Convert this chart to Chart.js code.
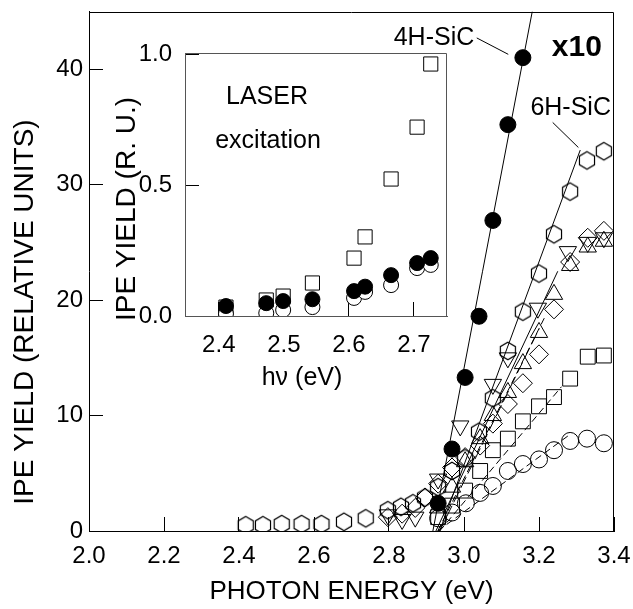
<!DOCTYPE html>
<html><head><meta charset="utf-8">
<script src="https://cdn.jsdelivr.net/npm/chart.js@4.4.1/dist/chart.umd.min.js"></script>
<style>
html,body{margin:0;padding:0;background:#fff;}
#wrap{position:relative;width:633px;height:609px;overflow:hidden;}
#main{position:absolute;left:0;top:0;}
#inset{position:absolute;left:95px;top:40px;}
</style></head><body>
<div id="wrap">
<canvas id="main" width="633" height="609"></canvas>
<canvas id="inset" width="370" height="360"></canvas>
</div>
<script>
const FONT = '"Liberation Sans", Arial, Helvetica, sans-serif';

// ---------- MAIN PLOT DATA (photon energy eV, IPE yield rel. units) ----------
// 4H-SiC (filled circles) and its straight fit
const e4H = [2.931, 2.968, 3.003, 3.040, 3.077, 3.117, 3.157];
const y4H = [2.4, 7.1, 13.3, 18.6, 26.9, 35.2, 41.0];
const fit4H_E = [2.917, 3.182];
const fit4H_Y = [0, 45];

// 6H-SiC (open hexagons) and its straight fit
const eHex = [2.418, 2.464, 2.514, 2.567, 2.620, 2.680, 2.738, 2.797, 2.832, 2.864, 2.896, 2.931, 2.968, 3.003, 3.040, 3.077, 3.117, 3.157, 3.200, 3.240, 3.283, 3.328, 3.373];
const yHex = [0.5, 0.5, 0.6, 0.6, 0.6, 0.8, 1.1, 1.8, 2.1, 2.4, 2.9, 3.8, 5.2, 6.3, 8.6, 11.5, 15.6, 19.0, 22.3, 25.7, 29.4, 32.1, 32.9];
const fitHex_E = [2.935, 3.310];
const fitHex_Y = [0, 33.0];

// open down-triangles
const eDown = [2.797, 2.835, 2.870, 2.931, 2.990, 3.077, 3.117, 3.197, 3.277, 3.330, 3.373];
const yDown = [1.4, 1.0, 1.2, 4.5, 9.1, 12.7, 15.0, 19.3, 24.2, 25.0, 25.4];
const fitDown_E = [2.925, 3.250];
const fitDown_Y = [0, 22.5];

// open diamonds
const eDia = [2.797, 2.835, 2.870, 2.896, 2.931, 2.968, 3.003, 3.043, 3.077, 3.117, 3.157, 3.200, 3.240, 3.283, 3.330, 3.373];
const yDia = [1.2, 1.5, 2.0, 2.9, 4.1, 5.5, 6.4, 7.4, 9.3, 11.0, 12.8, 15.3, 19.2, 23.3, 25.4, 26.0];
const fitDia_E = [2.930, 3.215];
const fitDia_Y = [0, 18.5];

// open up-triangles
const eUp = [2.931, 2.968, 3.003, 3.043, 3.077, 3.117, 3.157, 3.200, 3.240, 3.283, 3.330, 3.373];
const yUp = [2.0, 3.8, 6.0, 8.0, 10.0, 12.0, 14.5, 17.2, 20.5, 23.0, 24.6, 25.1];
const fitUp_E = [2.935, 3.200];
const fitUp_Y = [0, 17.5];

// open squares
const eSq = [2.931, 2.968, 3.003, 3.043, 3.077, 3.117, 3.157, 3.200, 3.240, 3.283, 3.330, 3.373];
const ySq = [1.2, 2.2, 3.5, 5.2, 7.0, 8.0, 9.5, 10.8, 11.6, 13.2, 15.1, 15.2];
const fitSq_E = [2.935, 3.260];
const fitSq_Y = [0, 12.5];

// open circles
const eCirc = [2.931, 2.968, 3.005, 3.043, 3.077, 3.117, 3.157, 3.200, 3.240, 3.283, 3.328, 3.373];
const yCirc = [1.1, 1.6, 2.4, 3.3, 3.9, 5.2, 5.8, 6.2, 7.0, 7.8, 8.0, 7.6];
const fitCirc_E = [2.930, 3.280];
const fitCirc_Y = [0, 8.3];

// ---------- INSET DATA (laser excitation) ----------
const insetE = [2.411, 2.473, 2.499, 2.544, 2.608, 2.625, 2.665, 2.705, 2.726];
const insetSquares = [0.034, 0.061, 0.076, 0.126, 0.221, 0.302, 0.523, 0.721, 0.962];
const insetFilled = [0.038, 0.049, 0.057, 0.064, 0.095, 0.112, 0.156, 0.202, 0.221];
const insetOpen = [0.008, 0.011, 0.023, 0.034, 0.069, 0.092, 0.118, 0.183, 0.195];

// ---------- AXES / TEXT ----------
const mainX = {min: 2.0, max: 3.4, step: 0.2, title: 'PHOTON ENERGY (eV)'};
const mainY = {min: 0, max: 45, step: 10, title: 'IPE YIELD (RELATIVE UNITS)'};
const insetX = {min: 2.348, max: 2.751, step: 0.1, title: 'h\u03BD (eV)'};
const insetY = {min: 0, max: 1.004, step: 0.5, title: 'IPE YIELD (R. U.)'};

// annotations in data coordinates
const mainTexts = [
  {text: '4H-SiC', x: 2.920, y: 42.71, bold: false, size: 25},
  {text: 'x10', x: 3.301, y: 41.83, bold: true, size: 30},
  {text: '6H-SiC', x: 3.2845, y: 36.59, bold: false, size: 25}
];
const mainLeaders = [
  {x1: 3.034, y1: 42.71, x2: 3.118, y2: 41.29},
  {x1: 3.2365, y1: 35.39, x2: 3.305, y2: 33.22}
];
const insetTexts = [
  {text: 'LASER', x: 2.4741, y: 0.836, size: 25},
  {text: 'excitation', x: 2.4757, y: 0.668, size: 25}
];

function pts(xs, ys) { return xs.map((x, i) => ({x: x, y: ys[i]})); }

function hexImg(r) {
  const s = 2 * Math.ceil(r + 1.5);
  const c = document.createElement('canvas');
  c.width = s; c.height = s;
  const g = c.getContext('2d');
  g.strokeStyle = '#000'; g.lineWidth = 1.2;
  g.beginPath();
  for (let k = 0; k < 6; k++) {
    const a = Math.PI / 3 * k;
    const px = s / 2 + r * Math.sin(a), py = s / 2 - r * Math.cos(a);
    if (k) g.lineTo(px, py); else g.moveTo(px, py);
  }
  g.closePath(); g.stroke();
  return c;
}
const HEX = hexImg(8.7);

function markers(label, data, style, radius, opts) {
  return Object.assign({
    label: label, data: data, showLine: false,
    pointStyle: style, pointRadius: radius, pointHoverRadius: radius,
    pointBorderWidth: 1, pointHoverBorderWidth: 1,
    borderColor: '#000', backgroundColor: 'rgba(0,0,0,0)', order: 1
  }, opts || {});
}
function fitLine(label, xs, ys, dash) {
  return {
    label: label, data: pts(xs, ys), showLine: true, pointRadius: 0, pointHoverRadius: 0,
    borderColor: '#000', borderWidth: 1, borderDash: dash, fill: false, order: 5
  };
}

const frame = {
  id: 'frame',
  afterDraw(chart, args, o) {
    const {ctx, chartArea: a} = chart;
    ctx.save();
    ctx.strokeStyle = o.color || '#000';
    ctx.lineWidth = 1;
    ctx.beginPath();
    ctx.moveTo(Math.round(a.left) + 0.5, Math.round(a.top) + 0.5);
    ctx.lineTo(Math.round(a.right) - 0.5, Math.round(a.top) + 0.5);
    ctx.lineTo(Math.round(a.right) - 0.5, Math.round(a.bottom) + 0.5);
    ctx.stroke();
    ctx.restore();
  }
};

// data-anchored notes plus axis titles placed relative to the chart area
const notes = {
  id: 'notes',
  afterDatasetsDraw(chart, args, o) {
    const {ctx, chartArea: a, scales: {x, y}} = chart;
    ctx.save();
    ctx.fillStyle = '#000'; ctx.strokeStyle = '#000'; ctx.lineWidth = 1;
    ctx.textAlign = 'center'; ctx.textBaseline = 'middle';
    (o.texts || []).forEach(t => {
      ctx.font = (t.bold ? 'bold ' : '') + t.size + 'px ' + FONT;
      ctx.fillText(t.text, x.getPixelForValue(t.x), y.getPixelForValue(t.y));
    });
    (o.leaders || []).forEach(l => {
      ctx.beginPath();
      ctx.moveTo(x.getPixelForValue(l.x1), y.getPixelForValue(l.y1));
      ctx.lineTo(x.getPixelForValue(l.x2), y.getPixelForValue(l.y2));
      ctx.stroke();
    });
    (o.titles || []).forEach(t => {
      ctx.save();
      ctx.font = t.size + 'px ' + FONT;
      ctx.translate(a.left + t.dx, a.bottom + t.dy);
      if (t.rotate) ctx.rotate(-Math.PI / 2);
      ctx.fillText(t.text, 0, 0);
      ctx.restore();
    });
    ctx.restore();
  }
};

function axis(cfg, opts) {
  return {
    type: 'linear', min: cfg.min, max: cfg.max,
    ticks: {
      stepSize: cfg.step, includeBounds: false, color: '#000',
      font: {family: FONT, size: 24}, padding: opts.tickPad,
      callback: v => opts.decimals ? Number(v).toFixed(1) : String(Math.round(v))
    },
    grid: {drawOnChartArea: false, drawTicks: true, tickLength: -14, color: '#000', lineWidth: 1},
    border: {display: true, color: opts.borderColor || '#000', width: 1},
    title: opts.title ? {display: true, text: cfg.title, color: '#000', font: {family: FONT, size: opts.titleSize}, padding: opts.titlePad} : {display: false, text: cfg.title},
    afterFit: s => {
      if (opts.w !== undefined) s.width = opts.w;
      if (opts.h !== undefined) s.height = opts.h;
      s.paddingLeft = 0; s.paddingRight = 0; s.paddingTop = 0; s.paddingBottom = 0;
    }
  };
}

Chart.defaults.font.family = FONT;
Chart.defaults.color = '#000';

new Chart(document.getElementById('main'), {
  type: 'scatter',
  data: {datasets: [
    markers('4H-SiC', pts(e4H, y4H), 'circle', 8, {backgroundColor: '#000', order: 0}),
    markers('6H-SiC', pts(eHex, yHex), HEX, 8.7),
    markers('down triangles', pts(eDown, yDown), 'triangle', 10, {pointRotation: 180}),
    markers('diamonds', pts(eDia, yDia), 'rectRot', 9.5),
    markers('up triangles', pts(eUp, yUp), 'triangle', 10),
    markers('squares', pts(eSq, ySq), 'rect', 10.5),
    markers('circles', pts(eCirc, yCirc), 'circle', 8.5),
    fitLine('4H-SiC fit', fit4H_E, fit4H_Y, []),
    fitLine('6H-SiC fit', fitHex_E, fitHex_Y, []),
    fitLine('down triangle fit', fitDown_E, fitDown_Y, []),
    fitLine('diamond fit', fitDia_E, fitDia_Y, [7, 4]),
    fitLine('up triangle fit', fitUp_E, fitUp_Y, [12, 4]),
    fitLine('square fit', fitSq_E, fitSq_Y, [7, 4]),
    fitLine('circle fit', fitCirc_E, fitCirc_Y, [7, 4])
  ]},
  options: {
    responsive: false, animation: false, devicePixelRatio: 1,
    layout: {padding: {left: 0, top: 5, right: 19, bottom: 0}},
    plugins: {legend: {display: false}, tooltip: {enabled: false},
      notes: {texts: mainTexts, leaders: mainLeaders,
        titles: [{text: mainY.title, dx: -64, dy: -219, rotate: true, size: 28}]},
      frame: {color: '#000'}},
    scales: {
      x: axis(mainX, {h: 78, tickPad: 25, decimals: true, title: true, titleSize: 26, titlePad: {top: 0, bottom: 2}}),
      y: axis(mainY, {w: 89, tickPad: 20, decimals: false, title: false})
    }
  },
  plugins: [frame, notes]
});

new Chart(document.getElementById('inset'), {
  type: 'scatter',
  data: {datasets: [
    markers('filled', pts(insetE, insetFilled), 'circle', 7.5, {backgroundColor: '#000', order: 0}),
    markers('open', pts(insetE, insetOpen), 'circle', 7.5, {backgroundColor: '#fff', order: 1}),
    markers('squares', pts(insetE, insetSquares), 'rect', 10, {order: 2})
  ]},
  options: {
    responsive: false, animation: false, devicePixelRatio: 1,
    layout: {padding: {left: 0, top: 13, right: 18, bottom: 0}},
    plugins: {legend: {display: false}, tooltip: {enabled: false},
      notes: {texts: insetTexts, leaders: [],
        titles: [
          {text: insetY.title, dx: -58, dy: -107, rotate: true, size: 28},
          {text: insetX.title, dx: 117, dy: 62, rotate: false, size: 25}
        ]},
      frame: {color: '#555'}},
    scales: {
      x: axis(insetX, {h: 84, tickPad: 29, decimals: true, borderColor: '#555', title: false}),
      y: axis(insetY, {w: 90, tickPad: 27, decimals: true, borderColor: '#555', title: false})
    }
  },
  plugins: [frame, notes]
});
</script>
</body></html>
